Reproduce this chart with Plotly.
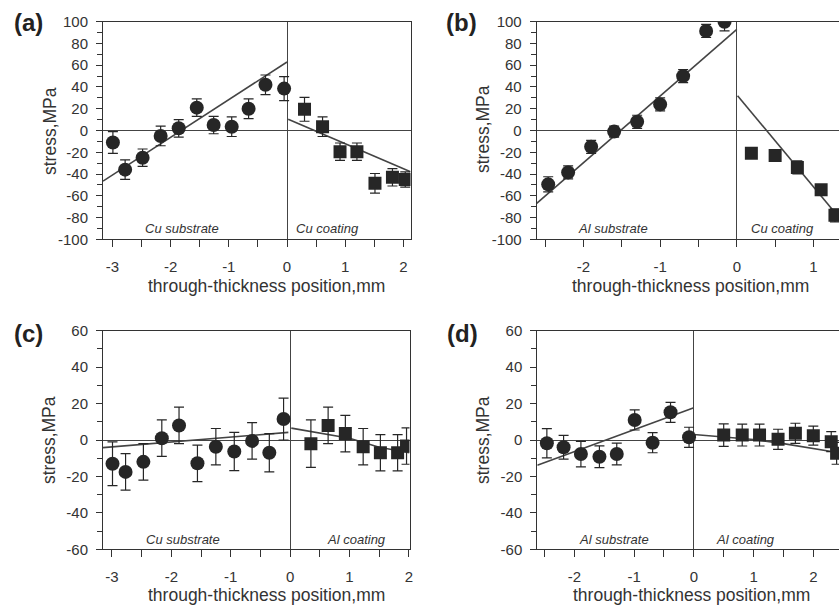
import plotly.graph_objects as go

# ---------------- data ----------------
# panel (a): Cu substrate / Cu coating
a_sub_x = [-2.99, -2.78, -2.48, -2.17, -1.86, -1.55, -1.26, -0.95, -0.66, -0.37, -0.05]
a_sub_y = [-11, -36, -25, -5, 2, 21, 5, 3.5, 20, 42, 38.5]
a_sub_err = [10, 9, 8, 9, 8, 8, 8, 9, 9, 9, 11]
a_coat_x = [0.30, 0.61, 0.91, 1.20, 1.51, 1.81, 2.03]
a_coat_y = [19.5, 3.5, -19.5, -19.5, -48.5, -43, -45]
a_coat_err = [11, 9, 8, 8, 9, 8, 7]
a_sub_fit_x = [-3.16, 0.0]
a_sub_fit_y = [-46.5, 63]
a_coat_fit_x = [0.02, 2.12]
a_coat_fit_y = [10.3, -38]

# panel (b): Al substrate / Cu coating
b_sub_x = [-2.46, -2.2, -1.9, -1.6, -1.3, -1.0, -0.7, -0.4, -0.16]
b_sub_y = [-49.5, -38.5, -15, -1, 8, 24, 50, 91.5, 100]
b_sub_err = [7, 6, 6, 5, 6, 6, 6, 6, 8.5]
b_coat_x = [0.19, 0.5, 0.79, 1.1, 1.28]
b_coat_y = [-21, -23, -34, -54.5, -78]
b_coat_err = [2, 5, 6, 4, 6]
b_sub_fit_x = [-2.61, 0.0]
b_sub_fit_y = [-67, 93]
b_coat_fit_x = [0.01, 1.333]
b_coat_fit_y = [32, -80]

# panel (c): Cu substrate / Al coating
c_sub_x = [-2.99, -2.77, -2.47, -2.16, -1.87, -1.56, -1.25, -0.94, -0.64, -0.35, -0.11]
c_sub_y = [-13, -17.5, -12, 1, 8, -12.8, -3.7, -6.3, -0.5, -7, 11.5]
c_sub_err = [12, 10, 10, 10, 10, 10, 10, 10.5, 10, 10.5, 11.5]
c_coat_x = [0.35, 0.64, 0.93, 1.23, 1.52, 1.81, 1.96]
c_coat_y = [-2, 8, 3.5, -3.7, -7, -7, -3.3]
c_coat_err = [13, 10, 10, 10, 10, 10, 10]
c_sub_fit_x = [-3.15, -0.03]
c_sub_fit_y = [-4.2, 4.2]
c_coat_fit_x = [0.02, 0.5, 1.0, 1.5, 2.01]
c_coat_fit_y = [6.5, 4, 1, -4, -7]

# panel (d): Al substrate / Al coating
d_sub_x = [-2.46, -2.18, -1.89, -1.58, -1.29, -0.99, -0.69, -0.39, -0.08]
d_sub_y = [-1.8, -4, -7.7, -9.2, -7.7, 11, -1.5, 15.2, 1.5]
d_sub_err = [8, 6.5, 7, 6, 6, 5.5, 5.5, 5.5, 5.5]
d_coat_x = [0.5, 0.81, 1.1, 1.41, 1.7, 2.0, 2.3, 2.39]
d_coat_y = [2.7, 2.7, 2.7, 0.4, 3.7, 2.4, -0.9, -7.3]
d_coat_err = [6.2, 6, 6, 5.5, 5.5, 5.2, 5.5, 6]
d_sub_fit_x = [-2.62, 0.0]
d_sub_fit_y = [-13.8, 17.7]
d_coat_fit_x = [0.0, 0.5, 1.0, 1.5, 2.0, 2.43]
d_coat_fit_y = [3, 1.8, 0.3, -2, -4.5, -7]

panel_labels = ["(a)", "(b)", "(c)", "(d)"]
region_labels = [("Cu substrate", "Cu coating"), ("Al substrate", "Cu coating"),
                 ("Cu substrate", "Al coating"), ("Al substrate", "Al coating")]
x_title = "through-thickness position,mm"
y_title = "stress,MPa"
x_ticks_a = [-3, -2, -1, 0, 1, 2]
x_ticks_b = [-2, -1, 0, 1]
x_ticks_c = [-3, -2, -1, 0, 1, 2]
x_ticks_d = [-2, -1, 0, 1, 2]
y_ticks_top = [-100, -80, -60, -40, -20, 0, 20, 40, 60, 80, 100]
y_ticks_bot = [-60, -40, -20, 0, 20, 40, 60]

# ---------------- styling ----------------
W, H = 839, 605
FONT = "Arial, 'Liberation Sans', sans-serif"
TXT = "#333333"
MARK = "#262626"
LINE = "#444444"


def lab(v):
    return str(v)  # hyphen-minus like the original


def px_x(p):
    return p / W


def px_y(p):
    return 1 - p / H


panels = [
    dict(sx=a_sub_x, sy=a_sub_y, se=a_sub_err, cx=a_coat_x, cy=a_coat_y, ce=a_coat_err,
         fsx=a_sub_fit_x, fsy=a_sub_fit_y, fcx=a_coat_fit_x, fcy=a_coat_fit_y,
         xr=[-3.16, 2.12], yr=[-100, 100], xt=x_ticks_a, yt=y_ticks_top,
         xd=[px_x(103), px_x(410.5)], yd=[px_y(239.3), px_y(21.7)], right=True,
         lx=(-1.8, 0.69), ly=-90, panel=(28, 23), xtitle=(266, 286), ytitle=(50, 131)),
    dict(sx=b_sub_x, sy=b_sub_y, se=b_sub_err, cx=b_coat_x, cy=b_coat_y, ce=b_coat_err,
         fsx=b_sub_fit_x, fsy=b_sub_fit_y, fcx=b_coat_fit_x, fcy=b_coat_fit_y,
         xr=[-2.61, 1.333], yr=[-100, 100], xt=x_ticks_b, yt=y_ticks_top,
         xd=[px_x(536.7), 1.0], yd=[px_y(239.3), px_y(21.7)], right=False,
         lx=(-1.62, 0.59), ly=-90, panel=(461, 22), xtitle=(690, 286), ytitle=(483, 129)),
    dict(sx=c_sub_x, sy=c_sub_y, se=c_sub_err, cx=c_coat_x, cy=c_coat_y, ce=c_coat_err,
         fsx=c_sub_fit_x, fsy=c_sub_fit_y, fcx=c_coat_fit_x, fcy=c_coat_fit_y,
         xr=[-3.15, 2.01], yr=[-60, 60], xt=x_ticks_c, yt=y_ticks_bot,
         xd=[px_x(103), px_x(409.5)], yd=[px_y(549.3), px_y(330.7)], right=True,
         lx=(-1.81, 1.11), ly=-54.5, panel=(28, 333), xtitle=(266, 595), ytitle=(49, 440)),
    dict(sx=d_sub_x, sy=d_sub_y, se=d_sub_err, cx=d_coat_x, cy=d_coat_y, ce=d_coat_err,
         fsx=d_sub_fit_x, fsy=d_sub_fit_y, fcx=d_coat_fit_x, fcy=d_coat_fit_y,
         xr=[-2.62, 2.43], yr=[-60, 60], xt=x_ticks_d, yt=y_ticks_bot,
         xd=[px_x(537.3), 1.0], yd=[px_y(549.3), px_y(330.7)], right=False,
         lx=(-1.34, 0.86), ly=-54.5, panel=(462, 333), xtitle=(691, 595), ytitle=(483, 440)),
]

fig = go.Figure()
layout = dict(template="none", width=W, height=H, autosize=False,
              margin=dict(l=0, r=0, t=0, b=0, pad=0),
              paper_bgcolor="white", plot_bgcolor="white", showlegend=False,
              font=dict(family=FONT, color=TXT, size=15))
annotations = []

for i, p in enumerate(panels):
    n = "" if i == 0 else str(i + 1)
    xa, ya = "x" + n, "y" + n
    err_style = dict(type="data", visible=True, color=MARK, thickness=1.2, width=5)
    fig.add_trace(go.Scatter(x=p["fsx"], y=p["fsy"], mode="lines", xaxis=xa, yaxis=ya,
                             line=dict(color=LINE, width=1.6), hoverinfo="skip"))
    fig.add_trace(go.Scatter(x=p["fcx"], y=p["fcy"], mode="lines", xaxis=xa, yaxis=ya,
                             line=dict(color=LINE, width=1.6), hoverinfo="skip"))
    fig.add_trace(go.Scatter(x=p["sx"], y=p["sy"], mode="markers", xaxis=xa, yaxis=ya,
                             marker=dict(symbol="circle", size=14, color=MARK,
                                         line=dict(width=0)),
                             error_y=dict(array=p["se"], **err_style)))
    fig.add_trace(go.Scatter(x=p["cx"], y=p["cy"], mode="markers", xaxis=xa, yaxis=ya,
                             marker=dict(symbol="square", size=13, color=MARK,
                                         line=dict(width=0)),
                             error_y=dict(array=p["ce"], **err_style)))

    layout["xaxis" + n] = dict(
        domain=p["xd"], anchor=ya, range=p["xr"], showgrid=False, automargin=False,
        showline=True, linecolor="#333", linewidth=1, mirror=True,
        zeroline=True, zerolinecolor=LINE, zerolinewidth=1,
        tickmode="array", tickvals=p["xt"], ticktext=[lab(v) for v in p["xt"]],
        ticks="outside", ticklen=7, tickwidth=1, tickcolor="#333",
        minor=dict(tickmode="linear", tick0=0, dtick=0.5, ticks="outside",
                   ticklen=7, tickwidth=1, tickcolor="#333", showgrid=False),
        ticklabelstandoff=7, tickfont=dict(size=15, color=TXT, family=FONT))
    layout["yaxis" + n] = dict(
        domain=p["yd"], anchor=xa, range=p["yr"], showgrid=False, automargin=False,
        showline=True, linecolor="#333", linewidth=1, mirror=p["right"],
        zeroline=True, zerolinecolor=LINE, zerolinewidth=1,
        tickmode="array", tickvals=p["yt"], ticktext=[lab(v) for v in p["yt"]],
        ticks="outside", ticklen=6, tickwidth=1, tickcolor="#333",
        minor=dict(tickmode="linear", tick0=0, dtick=10, ticks="outside",
                   ticklen=5, tickwidth=1, tickcolor="#333", showgrid=False),
        ticklabelstandoff=5, tickfont=dict(size=15, color=TXT, family=FONT))

    # region labels
    for txt, xv in zip(region_labels[i], p["lx"]):
        annotations.append(dict(text="<i>%s</i>" % txt, x=xv, y=p["ly"], xref=xa, yref=ya,
                                showarrow=False, font=dict(size=13, color=TXT, family=FONT),
                                xanchor="center", yanchor="middle"))
    # panel label
    annotations.append(dict(text="<b>%s</b>" % panel_labels[i], x=px_x(p["panel"][0]),
                            y=px_y(p["panel"][1]), xref="paper", yref="paper",
                            showarrow=False, font=dict(size=24, color="#222", family=FONT),
                            xanchor="center", yanchor="middle"))
    # axis titles
    annotations.append(dict(text=x_title, x=px_x(p["xtitle"][0]), y=px_y(p["xtitle"][1]),
                            xref="paper", yref="paper", showarrow=False,
                            font=dict(size=17.5, color=TXT, family=FONT),
                            xanchor="center", yanchor="middle"))
    annotations.append(dict(text=y_title, x=px_x(p["ytitle"][0]), y=px_y(p["ytitle"][1]),
                            xref="paper", yref="paper", showarrow=False, textangle=-90,
                            font=dict(size=17.5, color=TXT, family=FONT),
                            xanchor="center", yanchor="middle"))

layout["annotations"] = annotations
fig.update_layout(**layout)
fig.write_html(
    "out.html",
    config={"displayModeBar": False, "staticPlot": True},
    post_script="document.body.style.margin='0';document.body.style.padding='0';"
                "document.body.style.overflow='hidden';",
)
